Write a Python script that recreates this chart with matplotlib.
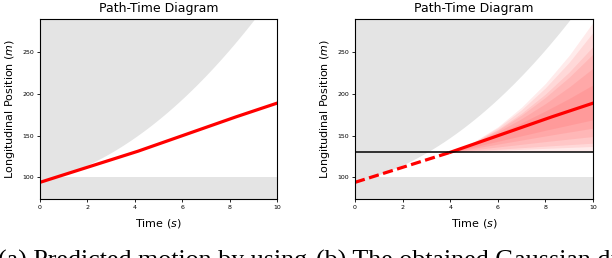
import numpy as np
import matplotlib
matplotlib.use('Agg')
import matplotlib.pyplot as plt

# predicted longitudinal position of the other vehicle (m) over time (s)
line_t = [0, 2, 4, 6, 8, 10]
line_s = [94, 112, 130, 150, 170, 189]

# edge of the reachable region (gray = not reachable)
bound_t = [0, 1, 2, 3, 4, 5, 6, 7, 8, 9, 10]
bound_s = [95, 103, 115, 130, 148, 169, 194, 222, 254, 288, 326]
floor_s = 100

# gaussian fan after the cut line (right panel)
cut_s = 130
fan_t = [4, 5, 6, 7, 8, 9, 10]
fan_shape = [0, 0.03, 0.11, 0.25, 0.44, 0.69, 1.0]
fan_upper10 = [286, 274, 257, 248, 231, 211]
fan_lower10 = [131.5, 137, 141, 149, 159, 169]

xticks = [0, 2, 4, 6, 8, 10]
yticks = [100, 150, 200, 250]
ylim = (74, 290)
gray = '#e4e4e4'

t = np.linspace(0, 10, 400)
mean = np.interp(t, line_t, line_s)
bound = np.polyval(np.polyfit(bound_t, bound_s, 2), t)

fig = plt.figure(figsize=(6.12, 2.58), dpi=100)
ax1 = fig.add_axes([40/612, 1-199/258, 237/612, 180/258])
ax2 = fig.add_axes([355/612, 1-199/258, 238/612, 180/258])

for ax in (ax1, ax2):
    ax.fill_between(t, bound, ylim[1], color=gray, lw=0)
    ax.fill_between(t, ylim[0], floor_s, color=gray, lw=0)
    ax.set_xlim(0, 10)
    ax.set_ylim(*ylim)
    ax.set_xticks(xticks)
    ax.set_yticks(yticks)
    ax.tick_params(labelsize=4.5, length=2, width=0.6, pad=2)
    ax.set_title('Path-Time Diagram', fontsize=9, pad=5)
    ax.set_xlabel('Time ($s$)', fontsize=8, labelpad=5)
    ax.set_ylabel('Longitudinal Position ($m$)', fontsize=8, labelpad=4)

# (a) plain prediction
ax1.plot(t, mean, color='red', lw=2.3)

# (b) gaussian fan
tf = t[t >= fan_t[0]]
mf = np.interp(tf, line_t, line_s)
shape = np.interp(tf, fan_t, fan_shape)
m10 = line_s[-1]
for up, lo in zip(fan_upper10, fan_lower10):
    upper = mf + (up - m10) * shape
    lower = cut_s + (lo - cut_s) / (m10 - cut_s) * (mf - cut_s)
    ax2.fill_between(tf, lower, upper, color='red', alpha=0.08, lw=0)

pre = t <= fan_t[0]
ax2.plot(t[pre], mean[pre], color='red', lw=2.3, ls=(0, (3.2, 1.4)))
ax2.plot(tf, mf, color='red', lw=2.3)
ax2.axhline(cut_s, color='black', lw=1.1)

# subcaptions, cut off by the bottom of the image
fig.text(-2/612, -10/258, '(a) Predicted motion by using', fontsize=18.7,
         family='Liberation Serif', va='baseline')
fig.text(316/612, -10/258, '(b) The obtained Gaussian distribution', fontsize=18.7,
         family='Liberation Serif', va='baseline')

plt.savefig('out.png', dpi=100)
